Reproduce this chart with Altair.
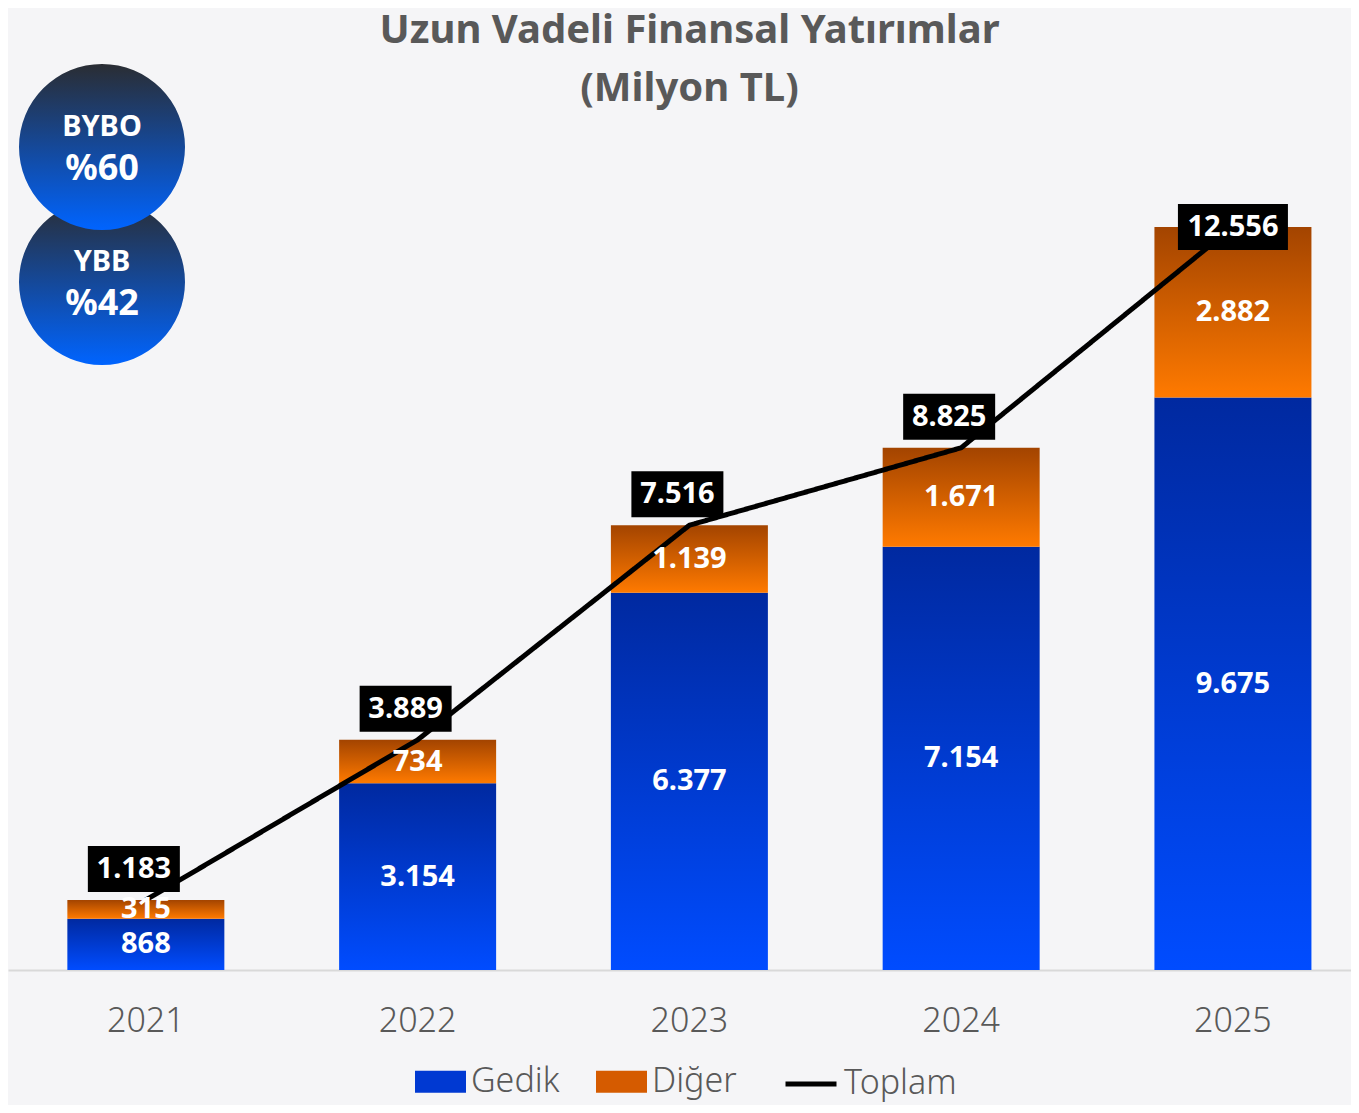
import altair as alt
import pandas as pd

# ---- data ----
years = ["2021", "2022", "2023", "2024", "2025"]
gedik = [868, 3154, 6377, 7154, 9675]
diger = [315, 734, 1139, 1671, 2882]
toplam = [1183, 3889, 7516, 8825, 12556]
bar_series = ["Gedik", "Diğer"]
line_series = ["Toplam"]
badge_names = ["BYBO", "YBB"]
badge_values = ["%60", "%42"]
title_lines = ["Uzun Vadeli Finansal Yatırımlar", "(Milyon TL)"]


def tr(n):
    return f"{n:,}".replace(",", ".")


df = pd.DataFrame({
    "year": years,
    "gedik": gedik,
    "diger": diger,
    "toplam": toplam,
    "gedik_lbl": [tr(v) for v in gedik],
    "diger_lbl": [tr(v) for v in diger],
    "toplam_lbl": [tr(v) for v in toplam],
    "series": line_series * len(years),
})
leg_df = pd.DataFrame({"series": bar_series})

# ---- style ----
FONT = "Noto Sans"
BG = "#f5f5f7"
GRAY = "#595959"
BLUE_TOP, BLUE_BOT, BLUE_MID = "#0029a0", "#004cff", "#0039d2"
OR_TOP, OR_BOT, OR_MID = "#a34400", "#ff7a00", "#d55b00"
CIR_TOP, CIR_BOT = "#2a2d33", "#0064ff"

W, H = 1343, 852
YMAX = 14398
K = H / YMAX  # px per unit
BOX_DX = "datum.year === '2025' ? 0 : -12"


def grad(top, bot):
    return alt.LinearGradient(
        gradient="linear",
        stops=[alt.GradientStop(offset=0, color=top), alt.GradientStop(offset=1, color=bot)],
        x1=0, x2=0, y1=0, y2=1,
    )


x_enc = alt.X(
    "year:N",
    sort=years,
    scale=alt.Scale(paddingInner=0.4223, paddingOuter=0.182, align=0.6),
    axis=alt.Axis(
        title=None, labelAngle=0, ticks=False, domainColor="#d9d9d9", domainWidth=2,
        labelFontSize=34, labelColor=GRAY, labelFont=FONT, labelPadding=34,
        labelFontWeight=300,
    ),
)
y_scale = alt.Scale(domain=[0, YMAX], nice=False, zero=True)

base = alt.Chart(df)

bars_g = base.mark_bar(fill=grad(BLUE_TOP, BLUE_BOT)).encode(
    x=x_enc, y=alt.Y("gedik:Q", scale=y_scale, axis=None)
)
bars_d = base.mark_bar(fill=grad(OR_TOP, OR_BOT)).encode(
    x=x_enc, y=alt.Y("gedik:Q", scale=y_scale, axis=None), y2="toplam:Q"
)

leg_common = dict(
    orient="none", direction="horizontal", title=None,
    labelFontSize=34, labelColor=GRAY, labelFont=FONT, labelFontWeight=300,
    labelOffset=5, columnPadding=36, symbolSize=2601,
)

# invisible layer only feeding the legend of the bar series
legend_src = alt.Chart(leg_df).mark_square(size=0, opacity=1).encode(
    x=alt.value(0), y=alt.value(0),
    color=alt.Color(
        "series:N",
        scale=alt.Scale(domain=bar_series, range=[BLUE_MID, OR_MID]),
        legend=alt.Legend(
            legendX=407, legendY=938, symbolType="M-1,-0.43H1V0.43H-1Z",
            symbolStrokeWidth=0, symbolOpacity=1, **leg_common
        ),
    ),
)

line = base.mark_line(strokeWidth=5, color="black").encode(
    x=x_enc,
    y=alt.Y("toplam:Q", scale=y_scale, axis=None),
    strokeDash=alt.StrokeDash(
        "series:N",
        scale=alt.Scale(domain=line_series, range=[[1, 0]]),
        legend=alt.Legend(
            legendX=775, legendY=938, symbolType="stroke", symbolStrokeWidth=5,
            symbolStrokeColor="black", **leg_common
        ),
    ),
)

lbl_style = dict(color="white", fontSize=29, fontWeight="bold", font=FONT)

lbl_g = base.transform_calculate(mid="datum.gedik / 2").mark_text(**lbl_style).encode(
    x=x_enc, y=alt.Y("mid:Q", scale=y_scale, axis=None), text="gedik_lbl:N"
)
lbl_d = base.transform_calculate(mid="datum.gedik + datum.diger / 2").mark_text(**lbl_style).encode(
    x=x_enc, y=alt.Y("mid:Q", scale=y_scale, axis=None), text="diger_lbl:N"
)

box_calc = base.transform_calculate(
    c=f"datum.toplam + (datum.year === '2025' ? 0 : {31 / K})",
).transform_calculate(
    lo=f"datum.c - {23 / K}", hi=f"datum.c + {23 / K}",
    bw="length(datum.toplam_lbl) * 18 + 2",
)
boxes = box_calc.mark_bar(color="black", xOffset=alt.expr(BOX_DX)).encode(
    x=x_enc, y=alt.Y("lo:Q", scale=y_scale, axis=None), y2="hi:Q",
    size=alt.Size("bw:Q", scale=None, legend=None),
)
box_txt = box_calc.mark_text(xOffset=alt.expr(BOX_DX), **lbl_style).encode(
    x=x_enc, y=alt.Y("c:Q", scale=y_scale, axis=None), text="toplam_lbl:N"
)

# badges (drawn bottom one first so the upper one overlaps it)
badge_layers = []
badge_cy = [29, 164]
for i in [1, 0]:
    bdf = pd.DataFrame({"name": [badge_names[i]], "val": [badge_values[i]]})
    bc = alt.Chart(bdf)
    badge_layers.append(
        bc.mark_point(shape="circle", filled=True, size=27556, fill=grad(CIR_TOP, CIR_BOT),
                      strokeWidth=0, opacity=1).encode(x=alt.value(94), y=alt.value(badge_cy[i]))
    )
    badge_layers.append(
        bc.mark_text(color="white", fontSize=29, fontWeight="bold", font=FONT).encode(
            x=alt.value(94), y=alt.value(badge_cy[i] - 20), text="name:N")
    )
    badge_layers.append(
        bc.mark_text(color="white", fontSize=36, fontWeight="bold", font=FONT).encode(
            x=alt.value(94), y=alt.value(badge_cy[i] + 22), text="val:N")
    )

chart = alt.layer(
    bars_g, bars_d, legend_src, line, lbl_g, lbl_d, boxes, box_txt, *badge_layers
).resolve_legend(color="independent", strokeDash="independent").properties(
    width=W, height=H,
    title=alt.TitleParams(
        text=title_lines, fontSize=40, font=FONT, fontWeight="bold", color=GRAY,
        anchor="middle", frame="group", lineHeight=58, offset=14, dx=10, dy=59,
    ),
    autosize=alt.AutoSizeParams(type="none"),
    padding={"left": 0, "right": 0, "top": 110, "bottom": 135},
    background=BG,
).configure_view(stroke=None)

chart.save("out.html", embed_options={"renderer": "svg", "actions": False})
